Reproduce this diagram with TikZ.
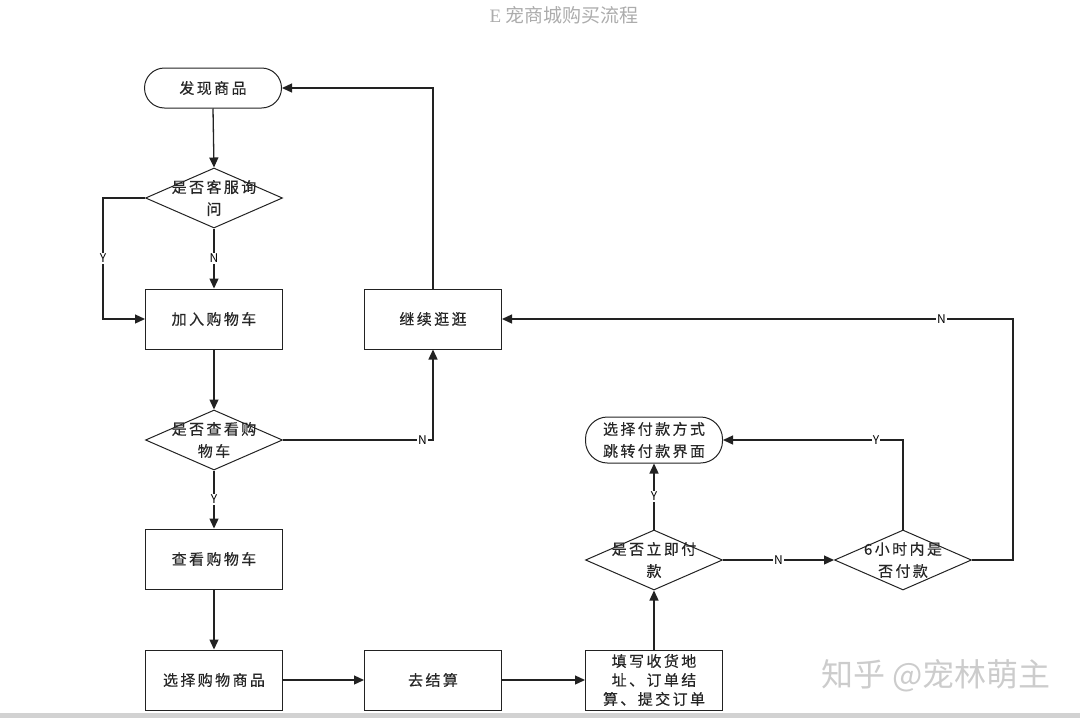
\documentclass[tikz,border=0pt]{standalone}
\usepackage{fontspec}
\setmainfont{Noto Sans CJK SC}
\newfontfamily\serifE{Liberation Serif}
\newfontfamily\spaced[LetterSpace=16,FakeBold=0.4]{Noto Sans CJK SC}
\usetikzlibrary{arrows.meta,shapes.geometric}
\definecolor{ln}{HTML}{222222}
\begin{document}
\begin{tikzpicture}[x=1pt,y=-1pt,
  box/.style={draw=ln, line width=1pt, minimum width=137pt, minimum height=60pt, inner sep=0pt,
              font=\spaced\fontsize{15}{19}\selectfont, align=center, text=black!85},
  term/.style={box, rounded corners=20pt, minimum height=40pt},
  term2/.style={box, rounded corners=22pt, minimum height=46pt, font=\spaced\fontsize{15}{22}\selectfont},
  dec/.style={draw=ln, line width=1pt, diamond, minimum width=137pt, minimum height=60pt, inner sep=0pt},
  dtext/.style={font=\spaced\fontsize{15}{22}\selectfont, align=center, inner sep=0pt, text=black!85},
  arr/.style={draw=ln, line width=1.3pt, -{Triangle[length=10pt,width=9pt]}},
  lbl/.style={fill=white, inner sep=1pt, font=\fontsize{12}{12}\selectfont}
]
\useasboundingbox (0,0) rectangle (1080,718);
\fill[gray!35] (0,713) rectangle (1080,718);

% title
\node[text=gray!65, font=\fontsize{19}{19}\selectfont] (title) at (564,15) {{\serifE E} 宠商城购买流程};

% nodes
\node[term] (t1) at (213,88) {发现商品};
\node[dec] (d1) at (214,198) {};
\node[dtext] (d1t) at (214,198) {是否客服询\\问};
\node[box] (b1) at (214,319) {加入购物车};
\node[box] (b4) at (433,319) {继续逛逛};
\node[dec] (d2) at (214,440) {};
\node[dtext] (d2t) at (214,440) {是否查看购\\物车};
\node[box] (b2) at (214,559) {查看购物车};
\node[box] (b3) at (214,680) {选择购物商品};
\node[box] (b5) at (433,680) {去结算};
\node[box] (b6) at (654,680) {填写收货地\\址、订单结\\算、提交订单};
\node[dec] (d3) at (654,560) {};
\node[dtext] (d3t) at (654,560) {是否立即付\\款};
\node[term2] (t2) at (654,440) {选择付款方式\\跳转付款界面};
\node[dec] (d4) at (903,560) {};
\node[dtext] (d4t) at (903,560) {6小时内是\\否付款};

% watermark
\node[text=gray!40, font=\fontsize{32}{32}\selectfont] (wm) at (936,676) {知乎 @宠林萌主};

% connectors
\draw[arr] (t1.south) -- (d1.north);
\draw[arr] (d1.west) -- ++(-42,0) |- node[lbl,pos=0.25]{Y} (b1.west);
\draw[arr] (d1.south) -- node[lbl]{N} (b1.north);
\draw[arr] (b1.south) -- (d2.north);
\draw[arr] (d2.east) -| node[lbl,pos=0.465]{N} (b4.south);
\draw[arr] (b4.north) |- (t1.east);
\draw[arr] (d2.south) -- node[lbl]{Y} (b2.north);
\draw[arr] (b2.south) -- (b3.north);
\draw[arr] (b3.east) -- (b5.west);
\draw[arr] (b5.east) -- (b6.west);
\draw[arr] (b6.north) -- (d3.south);
\draw[arr] (d3.north) -- node[lbl]{Y} (t2.south);
\draw[arr] (d3.east) -- node[lbl]{N} (d4.west);
\draw[arr] (d4.north) |- node[lbl,pos=0.575]{Y} (t2.east);
\draw[arr] (d4.east) -- ++(41,0) |- node[lbl,pos=0.57]{N} (b4.east);
\end{tikzpicture}
\end{document}
